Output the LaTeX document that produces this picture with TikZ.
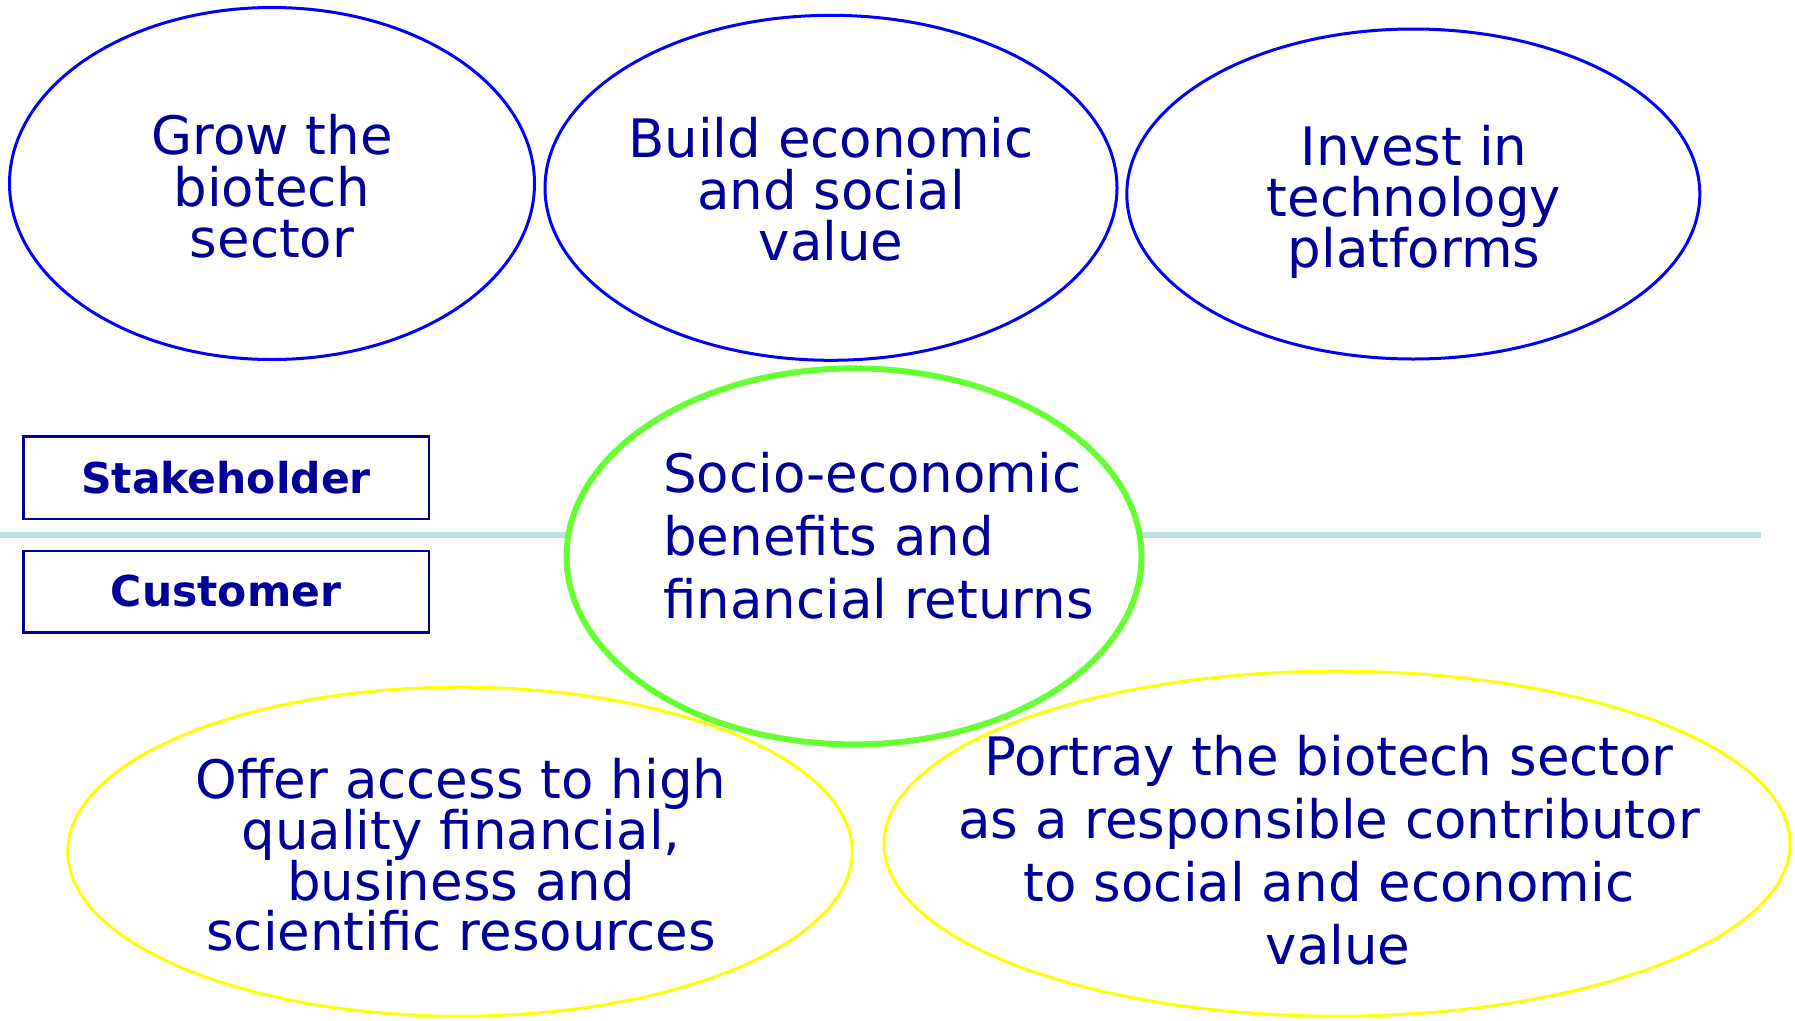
\documentclass[tikz,border=0pt]{standalone}
\usepackage{fontspec}
\setmainfont{DejaVu Sans}
\usetikzlibrary{shapes.geometric}
\definecolor{txt}{HTML}{000099}
\definecolor{eblue}{HTML}{0000FF}
\definecolor{egreen}{HTML}{66FF33}
\definecolor{eyellow}{HTML}{FFFF00}
\definecolor{sepcol}{HTML}{BCE1E3}
\begin{document}
\begin{tikzpicture}[x=1pt,y=-1pt,
  oval/.style={ellipse, inner sep=0pt},
  bluoval/.style={oval, draw=eblue, line width=3pt},
  yeloval/.style={oval, draw=eyellow, line width=3pt},
  grnoval/.style={oval, draw=egreen, line width=6pt, fill=white},
  lbl/.style={text=txt, inner sep=0pt, align=center,
    font={\fontsize{53}{51.3}\selectfont\lineskiplimit=-100pt}},
  widelbl/.style={lbl, font={\fontsize{53}{63}\selectfont\lineskiplimit=-100pt}},
  tagbox/.style={draw=txt, line width=2.5pt, text=txt, inner sep=0pt,
    minimum width=405.5pt, font={\fontsize{42.5}{50}\selectfont\bfseries}},
  sepline/.style={draw=sepcol, line width=6pt}
]
\useasboundingbox[fill=white] (0,0) rectangle (1795,1020);

% top blue ovals
\node[bluoval, minimum width=525pt, minimum height=352pt] (e1) at (272,183.5) {};
\node[bluoval, minimum width=572pt, minimum height=345pt] (e2) at (831,187.8) {};
\node[bluoval, minimum width=573pt, minimum height=330pt] (e3) at (1413.3,194) {};

% separator line
\coordinate (sepL) at (0,534.5);
\coordinate (sepR) at (1761,534.5);
\draw[sepline] (sepL) -- (sepR);

% bottom yellow ovals
\node[yeloval, minimum width=784.6pt, minimum height=329pt] (e5) at (460,851.7) {};
\node[yeloval, minimum width=906pt, minimum height=345pt] (e6) at (1337,843.7) {};

% central green oval
\node[grnoval, minimum width=575pt, minimum height=376pt] (e4) at (854,556.4) {};

% texts
\node[lbl] (t1) at (272,186.5) {Grow the\\biotech\\sector};
\node[lbl] (t2) at (831,189.5) {Build economic\\and social\\value};
\node[lbl] (t3) at (1414,202) {Invest in\\technology\\platforms};
\node[widelbl, align=left, anchor=west] (t4) at (663,535.5) {Socio-economic\\benefits and\\financial returns};
\node[lbl, font={\fontsize{53}{50.7}\selectfont\lineskiplimit=-100pt}] (t5) at (461,855) {Offer access to high\\quality financial,\\business and\\scientific resources};
\node[widelbl] (t6) at (1329,850.5) {Portray the biotech sector\\as a responsible contributor\\to social and economic\\\hspace*{18pt}value};

% tag boxes
\node[tagbox, minimum height=82.5pt] (stake) at (226,477.5) {Stakeholder};
\node[tagbox, minimum height=81.5pt] (cust) at (226,591.5) {Customer};
\end{tikzpicture}
\end{document}
